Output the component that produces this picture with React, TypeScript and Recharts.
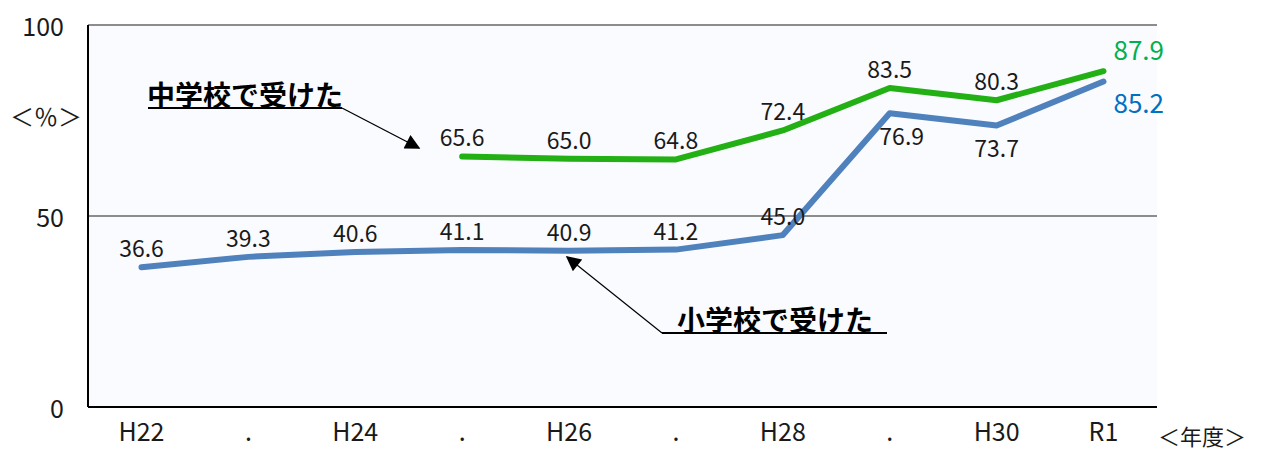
import React from "react";
import { LineChart, Line, XAxis, YAxis, CartesianGrid, LabelList } from "recharts";

const years = ["H22", ".", "H24", ".", "H26", ".", "H28", ".", "H30", "R1"];
const elementary = [36.6, 39.3, 40.6, 41.1, 40.9, 41.2, 45.0, 76.9, 73.7, 85.2];
const juniorHigh = [null, null, null, 65.6, 65.0, 64.8, 72.4, 83.5, 80.3, 87.9];
const yTicks = [0, 50, 100];

const data = years.map((y, i) => ({
  year: y,
  elem: elementary[i],
  jh: juniorHigh[i],
}));

const FONT = "'Noto Sans CJK JP', 'Noto Sans', sans-serif";
const GREEN = "#22b014";
const BLUE = "#4f81bd";
const last = years.length - 1;

// label placement: most above the point, a few below, last ones to the right
const makeLabel = (series: "elem" | "jh") => (props: any) => {
  const { x, y, value, index } = props;
  if (value == null) return null;
  let tx = x;
  let ty = y - 20;
  let anchor = "middle";
  let fill = "#1a1a1a";
  let size = 23;
  if (index === last) {
    tx = x + 10;
    ty = series === "jh" ? y - 23 : y + 20;
    anchor = "start";
    fill = series === "jh" ? "#00b050" : "#0070c0";
    size = 26;
  } else if (series === "elem" && (index === 7 || index === 8)) {
    ty = y + 22;
    if (index === 7) tx = x + 12;
  }
  return (
    <text
      x={tx}
      y={ty}
      textAnchor={anchor}
      dominantBaseline="central"
      fontFamily={FONT}
      fontSize={size}
      fill={fill}
    >
      {Number(value).toFixed(1)}
    </text>
  );
};

function Annotations() {
  return (
    <svg
      width={1264}
      height={450}
      style={{ position: "absolute", left: 0, top: 0, pointerEvents: "none" }}
    >
      <defs>
        <marker
          id="tri"
          viewBox="0 0 10 10"
          refX="9"
          refY="5"
          markerUnits="userSpaceOnUse"
          markerWidth="17"
          markerHeight="15"
          orient="auto"
        >
          <path d="M0,0 L10,5 L0,10 z" fill="#000" />
        </marker>
      </defs>
      <text x={10} y={115} fontFamily={FONT} fontSize={24} fill="#1a1a1a" dominantBaseline="central">
        ＜％＞
      </text>
      <text x={1158} y={435} fontFamily={FONT} fontSize={22} fill="#1a1a1a" dominantBaseline="central">
        ＜年度＞
      </text>
      <text x={147} y={94} fontFamily={FONT} fontSize={28} fontWeight="bold" fill="#000" dominantBaseline="central">
        中学校で受けた
      </text>
      <line x1={148} y1={108} x2={342} y2={108} stroke="#000" strokeWidth={2} />
      <line x1={342} y1={108} x2={419} y2={148} stroke="#000" strokeWidth={1.3} markerEnd="url(#tri)" />
      <text x={677} y={319} fontFamily={FONT} fontSize={28} fontWeight="bold" fill="#000" dominantBaseline="central">
        小学校で受けた
      </text>
      <line x1={662} y1={333} x2={887} y2={333} stroke="#000" strokeWidth={2} />
      <line x1={662} y1={333} x2={567} y2={257} stroke="#000" strokeWidth={1.3} markerEnd="url(#tri)" />
    </svg>
  );
}

export default function App() {
  return (
    <div style={{ position: "absolute", left: 0, top: 0, width: 1264, height: 450, background: "#fff" }}>
      <LineChart
        width={1264}
        height={450}
        data={data}
        margin={{ top: 25, right: 107, bottom: 0, left: 0 }}
      >
        <CartesianGrid vertical={false} fill="#fafbfe" stroke="#8c8c8c" strokeWidth={2} />
        <XAxis
          dataKey="year"
          padding={{ left: 53.5, right: 53.5 }}
          height={43}
          tickSize={0}
          tickMargin={16}
          axisLine={{ stroke: "#000", strokeWidth: 2 }}
          tickLine={false}
          tick={{ fontFamily: FONT, fontSize: 25, fill: "#1a1a1a" }}
          interval={0}
        />
        <YAxis
          domain={[0, 100]}
          ticks={yTicks}
          width={88}
          tickSize={0}
          tickMargin={24}
          axisLine={{ stroke: "#000", strokeWidth: 2 }}
          tickLine={false}
          tick={{ fontFamily: FONT, fontSize: 25, fill: "#1a1a1a", dy: 2 }}
        />
        <Line
          dataKey="elem"
          stroke={BLUE}
          strokeWidth={6}
          strokeLinecap="round"
          strokeLinejoin="round"
          dot={false}
          activeDot={false}
          isAnimationActive={false}
        >
          <LabelList dataKey="elem" content={makeLabel("elem")} />
        </Line>
        <Line
          dataKey="jh"
          stroke={GREEN}
          strokeWidth={6}
          strokeLinecap="round"
          strokeLinejoin="round"
          dot={false}
          activeDot={false}
          isAnimationActive={false}
        >
          <LabelList dataKey="jh" content={makeLabel("jh")} />
        </Line>
      </LineChart>
      <Annotations />
    </div>
  );
}
